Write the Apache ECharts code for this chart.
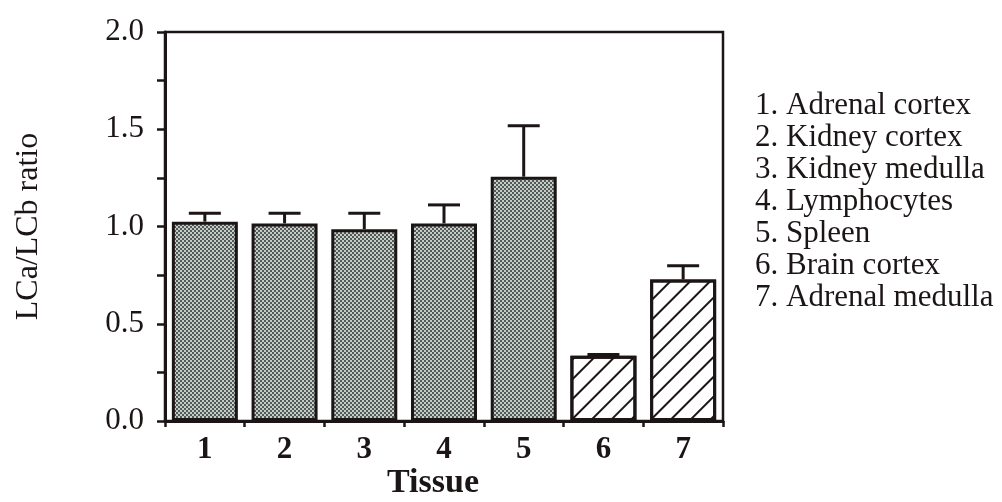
<!DOCTYPE html>
<html>
<head>
<meta charset="utf-8">
<script src="https://cdn.jsdelivr.net/npm/echarts@6/dist/echarts.min.js"></script>
<style>
html,body{margin:0;padding:0;background:#fff;}
#c{width:1002px;height:502px;}
</style>
</head>
<body>
<div id="c"></div>
<script>
// ---- data ----
var categories = ['1', '2', '3', '4', '5', '6', '7'];
var ratioValues = [1.025, 1.016, 0.986, 1.016, 1.256, 0.336, 0.728];
var errorTops = [1.068, 1.068, 1.068, 1.111, 1.518, 0.342, 0.798];
var hatched = [false, false, false, false, false, true, true];
var tissueNames = ['1. Adrenal cortex', '2. Kidney cortex', '3. Kidney medulla', '4. Lymphocytes', '5. Spleen', '6. Brain cortex', '7. Adrenal medulla'];
var yTicks = [0, 0.5, 1.0, 1.5, 2.0];

// ---- styles ----
var ink = '#1c1515';
var serif = '"Liberation Serif", "DejaVu Serif", serif';

function makeStipple() {
  var cv = document.createElement('canvas');
  cv.width = 4; cv.height = 4;
  var ctx = cv.getContext('2d');
  ctx.fillStyle = '#c8ccc2';
  ctx.fillRect(0, 0, 4, 4);
  ctx.fillStyle = '#4f5a5c';
  ctx.fillRect(0, 0, 2, 2);
  ctx.fillRect(2, 2, 2, 2);
  return cv;
}
var stipple = { image: makeStipple(), repeat: 'repeat' };

var hatchDecal = {
  symbol: 'rect',
  symbolSize: 1,
  color: ink,
  dashArrayX: [1, 0],
  dashArrayY: [2, 12],
  rotation: -Math.PI / 4
};

var barData = ratioValues.map(function (v, i) {
  return {
    value: v,
    itemStyle: hatched[i]
      ? { color: '#ffffff', decal: hatchDecal }
      : { color: stipple }
  };
});

var errData = ratioValues.map(function (v, i) { return [i, v, errorTops[i]]; });

var chart = echarts.init(document.getElementById('c'), null, { renderer: 'canvas' });
chart.setOption({
  animation: false,
  backgroundColor: '#ffffff',
  title: {
    text: tissueNames.join('\n'),
    left: 755,
    top: 90,
    padding: 0,
    textStyle: { fontFamily: serif, fontSize: 31, fontWeight: 'normal', color: ink, lineHeight: 32 }
  },
  grid: {
    left: 165, right: 279, top: 32, bottom: 81,
    containLabel: false,
    outerBoundsMode: 'none',
    show: true, borderColor: ink, borderWidth: 2.5, backgroundColor: 'transparent'
  },
  xAxis: {
    type: 'category',
    data: categories,
    boundaryGap: true,
    name: 'Tissue',
    nameLocation: 'middle',
    nameGap: 45,
    nameMoveOverlap: false,
    nameTextStyle: { fontFamily: serif, fontSize: 34, fontWeight: 'bold', color: ink, padding: [0, 22, 0, 0] },
    axisLine: { lineStyle: { color: ink, width: 3 } },
    axisTick: { show: true, alignWithLabel: false, length: 6, lineStyle: { color: ink, width: 2.5 } },
    axisLabel: { margin: 13, fontFamily: serif, fontSize: 31, fontWeight: 'bold', color: ink },
    splitLine: { show: false }
  },
  yAxis: {
    type: 'value',
    min: yTicks[0],
    max: yTicks[yTicks.length - 1],
    interval: 0.5,
    name: 'LCa/LCb ratio',
    nameLocation: 'middle',
    nameGap: 120,
    nameMoveOverlap: false,
    nameTextStyle: { fontFamily: serif, fontSize: 32, color: ink },
    axisLine: { show: true, lineStyle: { color: ink, width: 3 } },
    axisTick: { show: true, length: 8, lineStyle: { color: ink, width: 2.5 } },
    minorTick: { show: true, splitNumber: 2, length: 8, lineStyle: { color: ink, width: 2.5 } },
    axisLabel: {
      margin: 21, fontFamily: serif, fontSize: 31, color: ink,
      formatter: function (v) { return v.toFixed(1); }
    },
    splitLine: { show: false }
  },
  series: [
    {
      type: 'bar',
      data: barData,
      barWidth: 66,
      itemStyle: { borderColor: ink, borderWidth: 3 },
      z: 2
    },
    {
      type: 'custom',
      data: errData,
      z: 1,
      renderItem: function (params, api) {
        var base = api.coord([api.value(0), api.value(1)]);
        var top = api.coord([api.value(0), api.value(2)]);
        var hw = 16;
        return {
          type: 'group',
          children: [
            { type: 'line', shape: { x1: base[0], y1: base[1], x2: top[0], y2: top[1] }, style: { stroke: ink, lineWidth: 3 } },
            { type: 'line', shape: { x1: top[0] - hw, y1: top[1], x2: top[0] + hw, y2: top[1] }, style: { stroke: ink, lineWidth: 3 } }
          ]
        };
      }
    }
  ]
});
</script>
</body>
</html>
